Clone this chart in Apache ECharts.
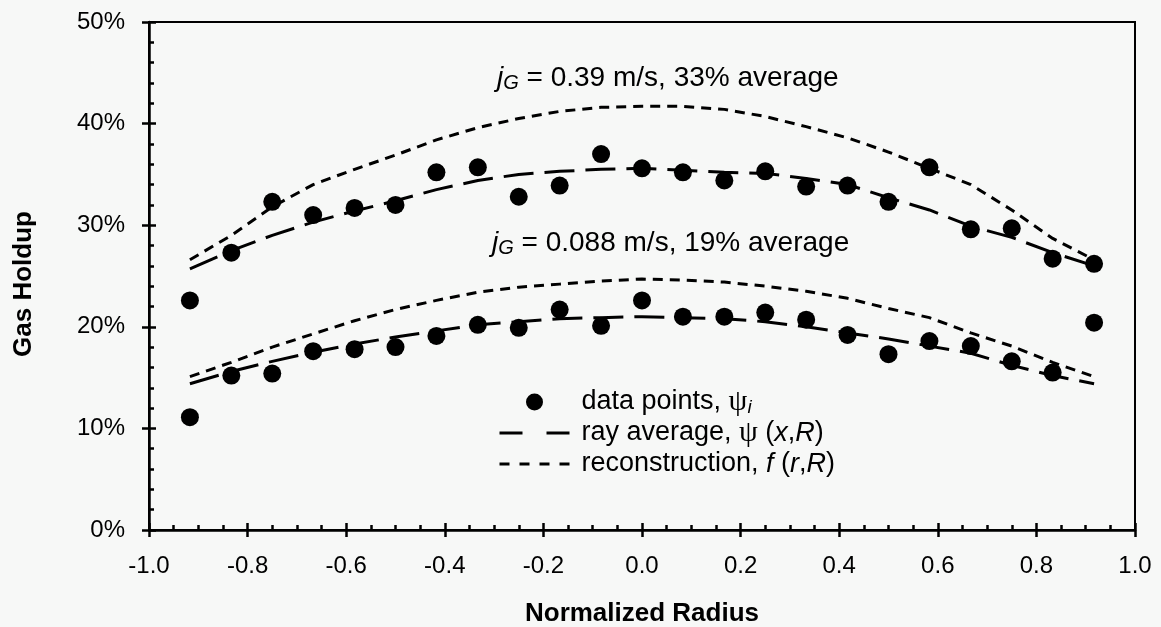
<!DOCTYPE html>
<html>
<head>
<meta charset="utf-8">
<script src="https://cdn.jsdelivr.net/npm/echarts@6/dist/echarts.min.js"></script>
<style>
  html, body { margin: 0; padding: 0; background: #f7f8f7; }
  #chart { width: 1161px; height: 627px; }
</style>
</head>
<body>
<div id="chart"></div>
<script>
// normalized radius of each chord
const radius = [-0.917, -0.833, -0.75, -0.667, -0.583, -0.5, -0.417, -0.333, -0.25, -0.167, -0.083, 0,
  0.083, 0.167, 0.25, 0.333, 0.417, 0.5, 0.583, 0.667, 0.75, 0.833, 0.917]

// jG = 0.39 m/s (%)
const highPoints = [22.6, 27.3, 32.3, 31.0, 31.7, 32.0, 35.2, 35.7, 32.8, 33.9, 37.0, 35.6,
  35.2, 34.4, 35.3, 33.8, 33.9, 32.3, 35.7, 29.6, 29.7, 26.7, 26.2]
const highRay = [25.7, 27.5, 29.0, 30.3, 31.4, 32.4, 33.5, 34.4, 35.0, 35.3, 35.5, 35.6,
  35.4, 35.2, 35.1, 34.6, 34.0, 32.7, 31.5, 29.9, 28.8, 27.3, 26.0]
const highRecon = [26.6, 29.0, 31.8, 34.0, 35.5, 36.9, 38.4, 39.6, 40.5, 41.2, 41.6, 41.7,
  41.7, 41.4, 40.7, 39.7, 38.6, 37.2, 35.6, 34.0, 31.5, 28.7, 26.6]

// jG = 0.088 m/s (%)
const lowPoints = [11.1, 15.2, 15.4, 17.6, 17.8, 18.0, 19.1, 20.2, 19.9, 21.7, 20.1, 22.6,
  21.0, 21.0, 21.4, 20.7, 19.2, 17.3, 18.6, 18.1, 16.6, 15.5, 20.4]
const lowRay = [14.4, 15.6, 16.6, 17.5, 18.3, 19.0, 19.6, 20.2, 20.5, 20.8, 20.9, 21.0,
  20.9, 20.8, 20.5, 20.0, 19.4, 18.8, 18.1, 17.4, 16.2, 15.2, 14.4]
const lowRecon = [15.1, 16.5, 18.0, 19.3, 20.6, 21.7, 22.6, 23.4, 23.9, 24.2, 24.5, 24.7,
  24.6, 24.4, 24.0, 23.5, 22.8, 21.8, 20.9, 19.4, 18.1, 16.5, 15.1]

const xTicks = [-1.0, -0.8, -0.6, -0.4, -0.2, 0.0, 0.2, 0.4, 0.6, 0.8, 1.0]
const yTicks = [0, 10, 20, 30, 40, 50]

const font = 'Liberation Sans, Arial, sans-serif'
const pairs = arr => arr.map((v, i) => [radius[i], v])

const chart = echarts.init(document.getElementById('chart'))

const xBase = {
  type: 'value', min: xTicks[0], max: xTicks[xTicks.length - 1], interval: 0.2,
  position: 'bottom', splitLine: {show: false}
}
const yBase = {
  type: 'value', min: yTicks[0], max: yTicks[yTicks.length - 1], interval: 10,
  position: 'left', splitLine: {show: false}
}

const subRich = {
  g: {fontFamily: 'Liberation Serif, serif', fontSize: 30, lineHeight: 30, color: '#000'},
  s: {fontFamily: font, fontStyle: 'italic', fontSize: 19, lineHeight: 19, verticalAlign: 'bottom', color: '#000'},
  i: {fontFamily: font, fontStyle: 'italic', fontSize: 27, lineHeight: 30, color: '#000'}
}
const noteRich = {
  i: {fontFamily: font, fontStyle: 'italic', fontSize: 28, lineHeight: 30, fill: '#000'},
  s: {fontFamily: font, fontStyle: 'italic', fontSize: 20, lineHeight: 20, verticalAlign: 'bottom', fill: '#000'},
  t: {fontFamily: font, fontSize: 28, lineHeight: 30, fill: '#000'}
}
const hideSymbol = {color: 'rgba(0,0,0,0)', borderWidth: 0}

chart.setOption({
  backgroundColor: '#f7f8f7',
  animation: false,
  grid: {left: 149, right: 26, top: 22, bottom: 97, show: true, borderColor: '#000', borderWidth: 2,
    outerBoundsMode: 'none', containLabel: false},
  xAxis: [
    Object.assign({}, xBase, {
      name: 'Normalized Radius', nameLocation: 'middle', nameGap: 71,
      nameTextStyle: {fontFamily: font, fontWeight: 'bold', fontSize: 26, color: '#000'},
      axisLine: {onZero: false, lineStyle: {color: '#000', width: 2.5}},
      axisTick: {show: true, inside: false, length: 7, lineStyle: {color: '#000', width: 2.5}},
      axisLabel: {fontFamily: font, fontSize: 24, color: '#000', margin: 24,
        formatter: v => v.toFixed(1)}
    }),
    Object.assign({}, xBase, {
      axisLine: {show: false, onZero: false},
      axisTick: {show: true, inside: true, length: 7, lineStyle: {color: '#000', width: 2.5}},
      minorTick: {show: true, splitNumber: 4, length: 5, lineStyle: {color: '#000', width: 2.5}},
      axisLabel: {show: false}
    })
  ],
  yAxis: [
    Object.assign({}, yBase, {
      name: 'Gas Holdup', nameLocation: 'middle', nameGap: 112, nameRotate: 90,
      nameTextStyle: {fontFamily: font, fontWeight: 'bold', fontSize: 26, color: '#000', padding: [0, 16, 0, 0]},
      axisLine: {onZero: false, lineStyle: {color: '#000', width: 2.5}},
      axisTick: {show: true, inside: false, length: 7, lineStyle: {color: '#000', width: 2.5}},
      axisLabel: {fontFamily: font, fontSize: 24, color: '#000', margin: 24, formatter: '{value}%'}
    }),
    Object.assign({}, yBase, {
      axisLine: {show: false, onZero: false},
      axisTick: {show: true, inside: true, length: 7, lineStyle: {color: '#000', width: 2.5}},
      minorTick: {show: true, splitNumber: 5, length: 5, lineStyle: {color: '#000', width: 2.5}},
      axisLabel: {show: false}
    })
  ],
  legend: {
    orient: 'vertical', left: 493, top: 382, itemWidth: 70, itemHeight: 17, itemGap: 1,
    selectedMode: false,
    data: [
      {name: 'data points', icon: 'circle', itemStyle: {color: '#000', opacity: 1}},
      {name: 'ray average', itemStyle: hideSymbol, lineStyle: {type: [23, 24], width: 3, color: '#000'}},
      {name: 'reconstruction', itemStyle: hideSymbol, lineStyle: {type: [10, 10], width: 3, color: '#000'}}
    ],
    formatter: name => {
      if (name === 'data points') return 'data points, {g|ψ}{s|i}'
      if (name === 'ray average') return 'ray average, {g|ψ} ({i|x},{i|R})'
      return 'reconstruction, {i|f} ({i|r},{i|R})'
    },
    textStyle: {fontFamily: font, fontSize: 27, lineHeight: 30, color: '#000', padding: [0, 0, 0, 7], rich: subRich}
  },
  graphic: [
    {type: 'text', left: 497, top: 64,
      style: {text: '{i|j}{s|G}{t| = 0.39 m/s, 33% average}', rich: noteRich}},
    {type: 'text', left: 492, top: 229,
      style: {text: '{i|j}{s|G}{t| = 0.088 m/s, 19% average}', rich: noteRich}}
  ],
  series: [
    {name: 'reconstruction', type: 'line', data: pairs(highRecon), symbol: 'none',
      lineStyle: {color: '#000', width: 3, type: [10, 7]}},
    {name: 'reconstruction', type: 'line', data: pairs(lowRecon), symbol: 'none',
      lineStyle: {color: '#000', width: 3, type: [10, 7]}},
    {name: 'ray average', type: 'line', data: pairs(highRay), symbol: 'none',
      lineStyle: {color: '#000', width: 3, type: [30, 11]}},
    {name: 'ray average', type: 'line', data: pairs(lowRay), symbol: 'none',
      lineStyle: {color: '#000', width: 3, type: [30, 11]}},
    {name: 'data points', type: 'scatter', data: pairs(highPoints), symbolSize: 18,
      itemStyle: {color: '#000', opacity: 1}, z: 5},
    {name: 'data points', type: 'scatter', data: pairs(lowPoints), symbolSize: 18,
      itemStyle: {color: '#000', opacity: 1}, z: 5}
  ]
})
</script>
</body>
</html>
